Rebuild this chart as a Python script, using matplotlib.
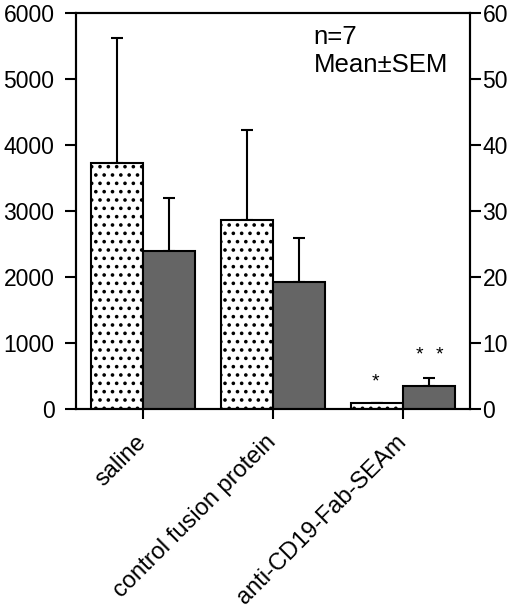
import matplotlib
matplotlib.use("Agg")
import matplotlib.pyplot as plt
import numpy as np

plt.rcParams['font.family'] = ['Liberation Sans', 'DejaVu Sans']
plt.rcParams['hatch.linewidth'] = 1.4

# groups on the x axis
groups = ['saline', 'control fusion protein', 'anti-CD19-Fab-SEAm']
# dotted bars, left axis (0-6000)
left_vals = [3720, 2870, 90]
left_err = [1900, 1350, 0]
# dark bars, right axis (0-60)
right_vals = [24.0, 19.3, 3.5]
right_err = [8.0, 6.6, 1.2]

x = np.arange(len(groups))
w = 0.4

fig = plt.figure(figsize=(5.2, 6.11), dpi=100)
ax = fig.add_axes([0.146, 0.3306, 0.758, 0.6481])
ax2 = ax.twinx()

ax.bar(x - w / 2, left_vals, w, facecolor='white', edgecolor='black',
       linewidth=1.5, hatch='..', zorder=2)
ax.errorbar(x - w / 2, left_vals, yerr=[np.zeros(3), left_err], fmt='none',
            ecolor='black', elinewidth=1.5, capsize=4.5, capthick=1.5, zorder=1)

ax2.bar(x + w / 2, right_vals, w, facecolor='#656565', edgecolor='black',
        linewidth=1.5, zorder=2)
ax2.errorbar(x + w / 2, right_vals, yerr=[np.zeros(3), right_err], fmt='none',
             ecolor='black', elinewidth=1.5, capsize=4.5, capthick=1.5, zorder=1)

ax.set_xlim(-0.515, 2.515)
ax.set_ylim(0, 6000)
ax2.set_ylim(0, 60)
ax.set_yticks(range(0, 6001, 1000))
ax2.set_yticks(range(0, 61, 10))
ax.set_xticks(x)
ax.set_xticklabels(groups, rotation=45, ha='right', va='center',
                   rotation_mode='anchor', fontsize=17)

ax.tick_params(axis='y', direction='out', length=8, width=1.5, pad=7.5, labelsize=16.5)
ax.tick_params(axis='x', direction='out', length=7.5, width=1.5, pad=14)
ax2.tick_params(axis='y', direction='out', length=8, width=1.5, pad=1, labelsize=16.5)
for a in (ax, ax2):
    for s in a.spines.values():
        s.set_linewidth(1.5)

# significance marks
ax2.text(x[2] - 0.215, 4.1, '*', ha='center', va='center', fontsize=14)
ax2.text(x[2] + 0.123, 8.2, '*', ha='center', va='center', fontsize=14)
ax2.text(x[2] + 0.277, 8.2, '*', ha='center', va='center', fontsize=14)

ax.text(0.603, 0.97, 'n=7\nMean±SEM', transform=ax.transAxes, ha='left',
        va='top', fontsize=18.5, linespacing=1.2)

fig.savefig('out.png', dpi=100)
